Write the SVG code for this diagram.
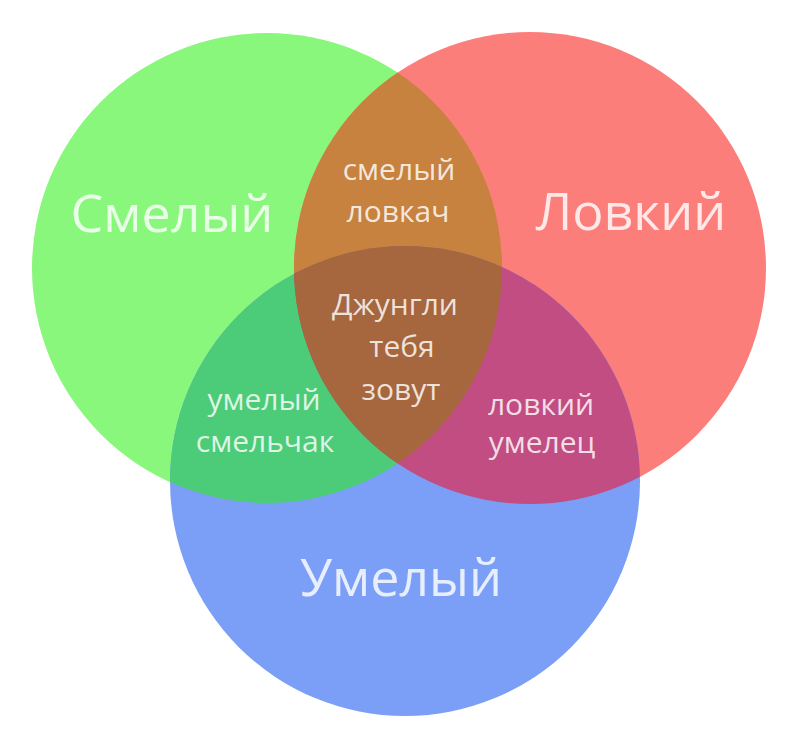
<svg xmlns="http://www.w3.org/2000/svg" width="800" height="752" viewBox="0 0 800 752">
<style>
.t{font-family:"Open Sans","Noto Sans",sans-serif;fill:#ffffff;fill-opacity:0.82;text-anchor:middle}
.big{font-size:52px}
.small{font-size:30px;font-weight:500}
</style>
<defs>
<circle id="cg" cx="267" cy="268" r="235"/>
<circle id="cr" cx="530" cy="268" r="236"/>
<circle id="cb" cx="405" cy="481" r="235"/>
<clipPath id="clipG"><use href="#cg"/></clipPath>
<clipPath id="clipR"><use href="#cr"/></clipPath>
</defs>
<rect width="800" height="752" fill="#ffffff"/>
<g id="smelyi"><use href="#cg" fill="#88f77b"/></g>
<g id="lovkii"><use href="#cr" fill="#fc7e7b"/></g>
<g id="umelyi"><use href="#cb" fill="#7b9ef6"/></g>
<g id="smelyi-lovkii" clip-path="url(#clipG)"><use href="#cr" fill="#c7823f"/></g>
<g id="smelyi-umelyi" clip-path="url(#clipG)"><use href="#cb" fill="#4ccc78"/></g>
<g id="lovkii-umelyi" clip-path="url(#clipR)"><use href="#cb" fill="#c24d82"/></g>
<g id="center" clip-path="url(#clipG)"><g clip-path="url(#clipR)"><use href="#cb" fill="#a6663e"/></g></g>
<g id="labels">
<text class="t big" x="172" y="232">Смелый</text>
<text class="t big" x="631" y="230">Ловкий</text>
<text class="t big" x="401" y="596">Умелый</text>
<text class="t small" x="399" y="180">смелый</text>
<text class="t small" x="398" y="222">ловкач</text>
<text class="t small" x="395" y="315">Джунгли</text>
<text class="t small" x="402" y="357">тебя</text>
<text class="t small" x="401" y="400">зовут</text>
<text class="t small" x="264" y="410">умелый</text>
<text class="t small" x="265" y="452">смельчак</text>
<text class="t small" x="541" y="415">ловкий</text>
<text class="t small" x="542" y="453">умелец</text>
</g>
</svg>
